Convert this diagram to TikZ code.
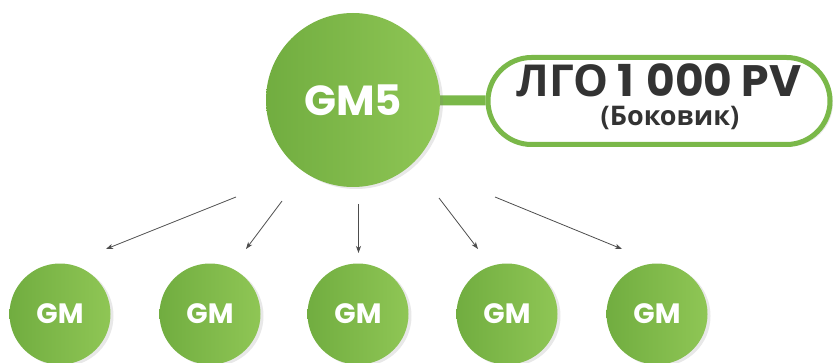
\documentclass[tikz,border=0pt]{standalone}
\usepackage{fontspec}
\setmainfont{Poppins}
\newfontfamily\cyrfont{Open Sans}
\usetikzlibrary{arrows.meta}
\usetikzlibrary{shapes.misc}
\usetikzlibrary{shadows}
\usetikzlibrary{backgrounds}

\definecolor{gmdark}{HTML}{71AD40}
\definecolor{gmlight}{HTML}{8FC655}
\definecolor{gmline}{HTML}{7AB849}
\definecolor{txtdark}{HTML}{333333}
\definecolor{arrgray}{HTML}{4D4D4D}

\begin{document}
\begin{tikzpicture} [x=1pt, y=-1pt,
    ball/.style={circle, inner sep=0pt, left color=gmdark, right color=gmlight, text=white,
        drop shadow={shadow xshift=3pt, shadow yshift=-2pt, opacity=.18}},
    bigball/.style={ball, minimum size=174pt, font=\fontsize{42}{42}\selectfont\bfseries},
    smallball/.style={ball, minimum size=101pt, font=\fontsize{28}{28}\selectfont\bfseries},
    pv/.style={anchor=base, text=txtdark, inner sep=0pt},
    down/.style={draw=arrgray, line width=.8pt, -{Stealth[length=7pt, width=5pt, inset=2pt]}}]
            \useasboundingbox (0,0) rectangle (834,363);

            \node[bigball] (gm5) at (353,100) {GM5};
            \node[rounded rectangle, draw=gmline, line width=5pt, fill=white,
                  minimum width=342pt, minimum height=87pt, inner sep=0pt,
                  drop shadow={shadow xshift=3pt, shadow yshift=-2pt, opacity=.18}] (pill) at (659,101) {};
            \node[pv, font=\fontsize{44}{44}\selectfont\bfseries] (lgo) at (659,97) {{\cyrfont ЛГО} 1\hspace{.28em}000 PV};
            \node[pv, font=\fontsize{27}{27}\selectfont\bfseries] (side) at (670,126) {{\cyrfont (Боковик)}};

            \begin{scope}[on background layer]
                \draw[gmline, line width=10pt] (gm5) -- (pill);
            \end{scope}

            \node[smallball] (gm1) at (60,314)  {GM};
            \node[smallball] (gm2) at (210,314) {GM};
            \node[smallball] (gm3) at (358,314) {GM};
            \node[smallball] (gm4) at (507,314) {GM};
            \node[smallball] (gm5b) at (657,314) {GM};

            \coordinate (s1) at (236,197);  \coordinate (t1) at (106,249);
            \coordinate (s2) at (282,201);  \coordinate (t2) at (246,249);
            \coordinate (s3) at (358.5,204); \coordinate (t3) at (358.5,253);
            \coordinate (s4) at (439,198);  \coordinate (t4) at (478,249);
            \coordinate (s5) at (495,197);  \coordinate (t5) at (622,249);

            \draw[down] (s1) -- (t1);
            \draw[down] (s2) -- (t2);
            \draw[down] (s3) -- (t3);
            \draw[down] (s4) -- (t4);
            \draw[down] (s5) -- (t5);
        \end{tikzpicture}
\end{document}
